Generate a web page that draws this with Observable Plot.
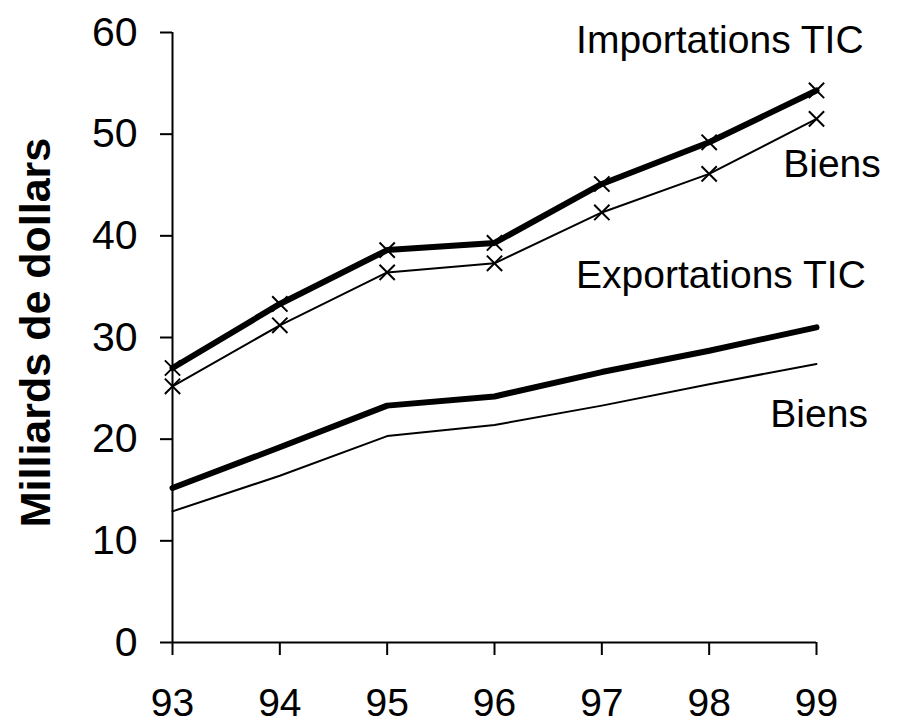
<!DOCTYPE html>
<html>
<head>
<meta charset="utf-8">
<script src="https://cdn.jsdelivr.net/npm/d3@7"></script>
<script src="https://cdn.jsdelivr.net/npm/@observablehq/plot@0.6"></script>
<style>
  html, body { margin: 0; padding: 0; background: #fff; }
  svg { display: block; }
</style>
</head>
<body>
<div id="chart"></div>
<script>
const years = [93, 94, 95, 96, 97, 98, 99];
const importsTIC   = [27.0, 33.3, 38.6, 39.3, 45.1, 49.2, 54.3];
const importsBiens = [25.2, 31.2, 36.4, 37.3, 42.3, 46.1, 51.5];
const exportsTIC   = [15.2, 19.2, 23.3, 24.2, 26.6, 28.7, 31.0];
const exportsBiens = [12.9, 16.4, 20.3, 21.4, 23.3, 25.4, 27.4];
const yTicks = [0, 10, 20, 30, 40, 50, 60];
const yLabel = "Milliards de dollars";
const seriesLabels = ["Importations TIC", "Biens", "Exportations TIC", "Biens"];
const labelYears  = [96.76, 98.69, 96.76, 98.57];
const labelValues = [59.26, 46.97, 36.05, 22.38];

const toRows = (vals) => years.map((y, i) => ({year: y, value: vals[i]}));
const impT = toRows(importsTIC);
const impB = toRows(importsBiens);
const expT = toRows(exportsTIC);
const expB = toRows(exportsBiens);
const labels = seriesLabels.map((t, i) => ({text: t, year: labelYears[i], value: labelValues[i]}));

const font = "'Liberation Sans', Arial, Helvetica, sans-serif";

const chart = Plot.plot({
  width: 901,
  height: 726,
  marginLeft: 172,
  marginRight: 85,
  marginTop: 32,
  marginBottom: 84,
  style: {fontFamily: font, background: "#fff", color: "#000"},
  x: {domain: [93, 99]},
  y: {domain: [0, 60]},
  marks: [
    Plot.ruleX([93], {y1: 0, y2: 60, stroke: "#000", strokeWidth: 2}),
    Plot.ruleY([0], {x1: 93, x2: 99, stroke: "#000", strokeWidth: 2}),
    Plot.axisY({ticks: yTicks, tickSize: 12, tickPadding: 23, fontSize: 41, label: null, strokeWidth: 2, tickFormat: d => String(d)}),
    Plot.axisX({ticks: years, tickSize: 13, tickPadding: 33, fontSize: 39, label: null, strokeWidth: 2, tickFormat: d => String(d)}),
    Plot.text([yLabel], {frameAnchor: "left", textAnchor: "middle", rotate: -90, dx: -136, dy: -5, fontSize: 43, fontWeight: "bold", fill: "#000"}),
    Plot.line(expB, {x: "year", y: "value", stroke: "#000", strokeWidth: 2}),
    Plot.line(expT, {x: "year", y: "value", stroke: "#000", strokeWidth: 6, strokeLinecap: "round"}),
    Plot.line(impB, {x: "year", y: "value", stroke: "#000", strokeWidth: 2}),
    Plot.line(impT, {x: "year", y: "value", stroke: "#000", strokeWidth: 6}),
    Plot.dot(impB, {x: "year", y: "value", symbol: "times", r: 7, stroke: "#000", strokeWidth: 2}),
    Plot.dot(impT, {x: "year", y: "value", symbol: "times", r: 7, stroke: "#000", strokeWidth: 2}),
    Plot.text(labels, {x: "year", y: "value", text: "text", textAnchor: "start", fontSize: 39, fill: "#000"})
  ]
});
document.getElementById("chart").appendChild(chart);
</script>
</body>
</html>
